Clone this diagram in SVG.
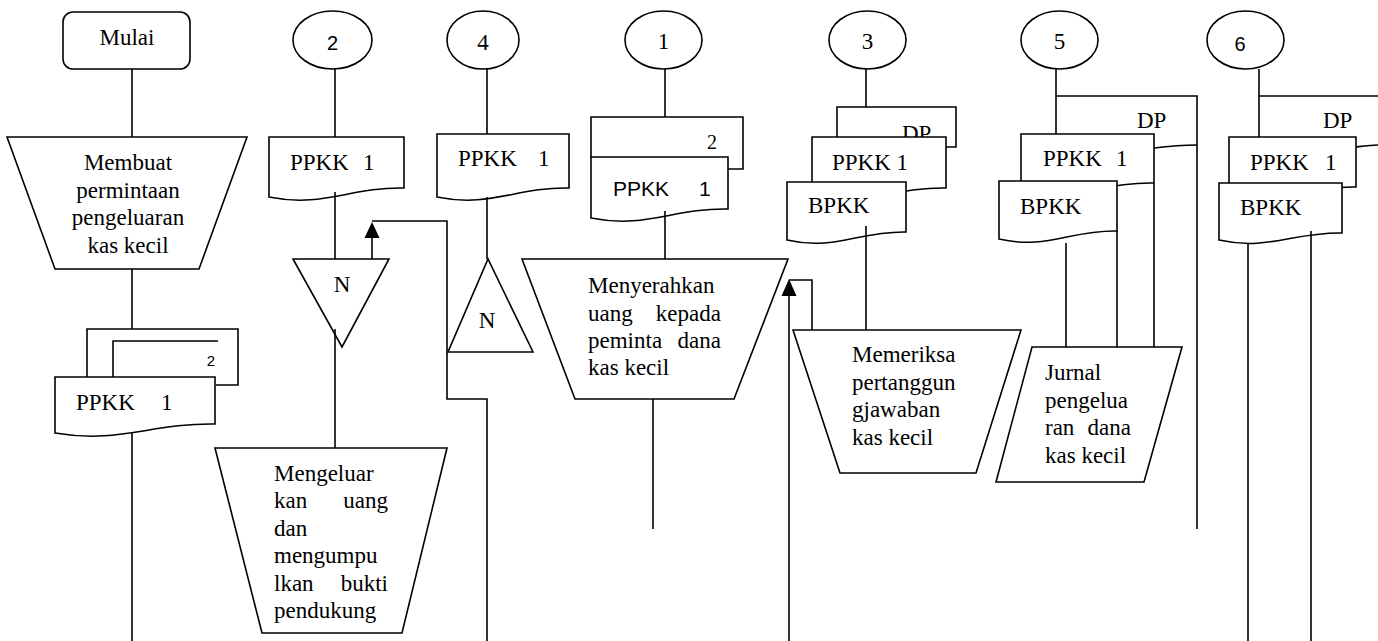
<svg xmlns="http://www.w3.org/2000/svg" width="1378" height="641" viewBox="0 0 1378 641">
  <style>
    .s { fill: #fff; stroke: #000; stroke-width: 1.6; }
    .o { fill: none; stroke: #000; stroke-width: 1.6; }
    .ln { fill: none; stroke: #000; stroke-width: 1.6; }
    .t { font-family: "Liberation Serif", "Times New Roman", serif; font-size: 23px; fill: #000; }
    .ts { font-family: "Liberation Sans", Arial, sans-serif; font-size: 20px; fill: #000; }
    .c { text-anchor: middle; }
    .e { text-anchor: end; }
    .head { fill: #000; stroke: none; }
  </style>

  <rect width="1378" height="641" fill="#fff"/>

  <!-- column: Mulai -->
  <g id="mulai">
    <rect class="s" x="63" y="12" width="127" height="57" rx="10"/>
    <text class="t c" x="127" y="45">Mulai</text>
  </g>
  <g id="membuat">
    <polygon class="s" points="7,137 247,137 199,269 55,269"/>
    <text class="t c" x="128" y="170">Membuat</text>
    <text class="t c" x="128" y="197.5">permintaan</text>
    <text class="t c" x="128" y="225">pengeluaran</text>
    <text class="t c" x="128" y="252.5">kas kecil</text>
  </g>
  <g id="doc-ppkk-a">
    <path class="o" d="M87,377 V329 H238 V385 H216"/>
    <path class="o" d="M113,377 V341 H218"/>
    <text class="ts c" x="211" y="366" style="font-size:15px">2</text>
    <path class="s" d="M55,377 H215 V424 C151,423 119,444 55,433 Z"/>
    <text class="t" x="76" y="410">PPKK</text>
    <text class="t" x="161" y="410">1</text>
  </g>

  <!-- column: connector 2 -->
  <g id="conn-2">
    <ellipse class="s" cx="332.5" cy="40" rx="39.5" ry="29"/>
    <text class="ts c" x="332.5" y="50">2</text>
  </g>
  <g id="doc-ppkk-b">
    <path class="s" d="M269,137 H404 V188 C350,187 323,208 269,197 Z"/>
    <text class="t" x="290" y="170">PPKK</text>
    <text class="t" x="363" y="170">1</text>
  </g>
  <g id="file-n-a">
    <polygon class="s" points="293,259 389,259 342,347"/>
    <text class="t c" x="342" y="292">N</text>
  </g>
  <g id="mengeluarkan">
    <polygon class="s" points="215,448 447,448 402,633 262,633"/>
    <text class="t" x="274" y="480.5">Mengeluar</text>
    <text class="t" x="274" y="508">kan</text>
    <text class="t e" x="388" y="508">uang</text>
    <text class="t" x="274" y="535.5">dan</text>
    <text class="t" x="274" y="563">mengumpu</text>
    <text class="t" x="274" y="590.5">lkan</text>
    <text class="t e" x="388" y="590.5">bukti</text>
    <text class="t" x="274" y="618">pendukung</text>
  </g>

  <!-- column: connector 4 -->
  <g id="conn-4">
    <ellipse class="s" cx="483" cy="40" rx="36" ry="29"/>
    <text class="t c" x="483" y="50">4</text>
  </g>
  <g id="doc-ppkk-c">
    <path class="s" d="M437,134 H569 V188 C516,187 490,208 437,197 Z"/>
    <text class="t" x="458" y="166">PPKK</text>
    <text class="t" x="538" y="166">1</text>
  </g>
  <g id="file-n-b">
    <polygon class="s" points="448,352 533,352 488,259"/>
    <text class="t c" x="487" y="328">N</text>
  </g>

  <!-- column: connector 1 -->
  <g id="conn-1">
    <ellipse class="s" cx="663.5" cy="40" rx="38.5" ry="29"/>
    <text class="t c" x="663.5" y="49">1</text>
  </g>
  <g id="doc-ppkk-d">
    <path class="o" d="M591,157 V117 H743 V169 H728"/>
    <text class="t c" x="712" y="149" style="font-size:20px">2</text>
    <path class="s" d="M591,157 H728 V209 C673,208 646,229 591,218 Z"/>
    <text class="ts" x="613" y="196" style="font-size:21px">PPKK</text>
    <text class="ts" x="699" y="196" style="font-size:21px">1</text>
  </g>
  <g id="menyerahkan">
    <polygon class="s" points="522,259 788,259 734,399 575,399"/>
    <text class="t" x="588" y="293">Menyerahkan</text>
    <text class="t" x="588" y="320.5">uang</text>
    <text class="t e" x="721" y="320.5">kepada</text>
    <text class="t" x="588" y="348">peminta</text>
    <text class="t e" x="721" y="348">dana</text>
    <text class="t" x="588" y="375">kas kecil</text>
  </g>

  <!-- column: connector 3 -->
  <g id="conn-3">
    <ellipse class="s" cx="867.5" cy="40" rx="38.5" ry="29"/>
    <text class="t c" x="867.5" y="49">3</text>
  </g>
  <g id="doc-stack-3">
    <path class="s" d="M837,137 V107 H956 V147 H946"/>
    <text class="t" x="902" y="141">DP</text>
    <path class="s" d="M812,137 H946 V188 C892,187 866,208 812,197 Z"/>
    <text class="t" x="832" y="170">PPKK 1</text>
    <path class="s" d="M787,182 H906 V232 C858,231 835,251 787,240 Z"/>
    <text class="t" x="808" y="213">BPKK</text>
  </g>
  <g id="memeriksa">
    <polygon class="s" points="793,330 1021,330 976,473 840,473"/>
    <text class="t" x="852" y="362">Memeriksa</text>
    <text class="t" x="852" y="389.5">pertanggun</text>
    <text class="t" x="852" y="417">gjawaban</text>
    <text class="t" x="852" y="444.5">kas kecil</text>
  </g>

  <!-- column: connector 5 -->
  <g id="conn-5">
    <ellipse class="s" cx="1059.5" cy="40" rx="38.5" ry="29"/>
    <text class="t c" x="1059.5" y="49">5</text>
  </g>
  <g id="doc-stack-5">
    <text class="t" x="1137" y="128">DP</text>
    <path class="o" d="M1154,148 C1170,146 1185,145 1197,145"/>
    <path class="s" d="M1021,134 H1154 V183 C1101,182 1074,203 1021,192 Z"/>
    <text class="t" x="1043" y="166">PPKK</text>
    <text class="t" x="1116" y="166">1</text>
    <path class="s" d="M999,181 H1117 V231 C1070,230 1046,250 999,239 Z"/>
    <text class="t" x="1020" y="214">BPKK</text>
  </g>
  <g id="jurnal">
    <polygon class="s" points="1032,347 1182,347 1144,482 996,482"/>
    <text class="t" x="1045" y="380">Jurnal</text>
    <text class="t" x="1045" y="407.5">pengelua</text>
    <text class="t" x="1045" y="435">ran</text>
    <text class="t e" x="1131" y="435">dana</text>
    <text class="t" x="1045" y="462.5">kas kecil</text>
  </g>

  <!-- column: connector 6 -->
  <g id="conn-6">
    <ellipse class="s" cx="1245.5" cy="40" rx="38.5" ry="29"/>
    <text class="ts c" x="1240" y="50.5">6</text>
  </g>
  <g id="doc-stack-6">
    <text class="t" x="1323" y="128">DP</text>
    <path class="o" d="M1356,147 C1364,146 1371,145 1378,145"/>
    <path class="s" d="M1229,137 H1356 V187 C1305,186 1280,207 1229,196 Z"/>
    <text class="t" x="1250" y="170">PPKK</text>
    <text class="t" x="1325" y="170">1</text>
    <path class="s" d="M1219,183 H1342 V233 C1293,232 1268,251 1219,240 Z"/>
    <text class="t" x="1240" y="215">BPKK</text>
  </g>

  <!-- connectors, drawn last so lines that start inside a document stay visible -->
  <g id="connectors" class="ln">
    <line x1="132" y1="69" x2="132" y2="137"/>
    <line x1="132" y1="269" x2="132" y2="329"/>
    <line x1="132" y1="433" x2="132" y2="641"/>

    <line x1="335" y1="69" x2="335" y2="137"/>
    <line x1="335" y1="192" x2="335" y2="259"/>
    <line x1="335" y1="329" x2="335" y2="448"/>
    <path d="M372,259 V238"/>
    <path class="head" d="M364.5,238 H379.5 L372,222 Z"/>
    <path d="M372,221 H447 V399 H487 V641"/>

    <line x1="487" y1="69" x2="487" y2="134"/>
    <line x1="487" y1="197" x2="487" y2="259"/>

    <line x1="665" y1="69" x2="665" y2="117"/>
    <line x1="665" y1="211" x2="665" y2="259"/>
    <line x1="653" y1="399" x2="653" y2="529"/>

    <path d="M789,641 V295"/>
    <path class="head" d="M781.5,296 H796.5 L789,279 Z"/>
    <path d="M812,330 V280 H789"/>

    <line x1="866" y1="69" x2="866" y2="107"/>
    <line x1="866" y1="226" x2="866" y2="330"/>

    <line x1="1056" y1="69" x2="1056" y2="134"/>
    <path d="M1056,96 H1197 V529"/>
    <line x1="1066" y1="243" x2="1066" y2="347"/>
    <line x1="1117" y1="231" x2="1117" y2="347"/>
    <line x1="1154" y1="183" x2="1154" y2="347"/>

    <line x1="1259" y1="69" x2="1259" y2="137"/>
    <path d="M1259,96 H1378"/>
    <line x1="1248" y1="244" x2="1248" y2="641"/>
    <line x1="1311" y1="231" x2="1311" y2="641"/>
  </g>
</svg>
